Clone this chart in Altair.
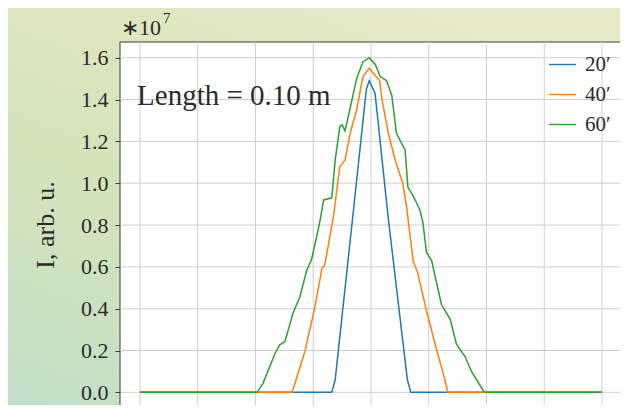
import altair as alt
import pandas as pd

# ---- data (intensity in units of 1e7) ----
x20 = [0, 3.32, 3.38, 3.70, 3.92, 3.97, 4.07, 4.30, 4.63, 4.69, 8]
y20 = [0, 0, 0.06, 0.88, 1.45, 1.49, 1.43, 0.83, 0.06, 0, 0]

x40 = [0, 2.63, 2.68, 2.86, 3.03, 3.15, 3.20, 3.35, 3.46, 3.55,
       3.64, 3.75, 3.86, 3.97, 4.06, 4.15, 4.19, 4.30, 4.42, 4.55,
       4.62, 4.73, 4.81, 4.96, 5.14, 5.28, 5.33, 8]
y40 = [0, 0, 0.04, 0.20, 0.41, 0.59, 0.61, 0.84, 1.08, 1.11,
       1.24, 1.35, 1.51, 1.55, 1.52, 1.49, 1.40, 1.24, 1.11, 1.00,
       0.88, 0.63, 0.57, 0.39, 0.20, 0.06, 0, 0]

x60 = [0, 2.03, 2.13, 2.34, 2.42, 2.51, 2.65, 2.77, 2.89, 2.97,
       3.06, 3.12, 3.18, 3.32, 3.38, 3.46, 3.50, 3.55, 3.64, 3.75,
       3.86, 3.97, 4.07, 4.16, 4.27, 4.36, 4.44, 4.53, 4.59, 4.64,
       4.73, 4.85, 4.90, 4.96, 5.05, 5.22, 5.37, 5.48, 5.63, 5.74,
       5.94, 5.97, 8]
y60 = [0, 0, 0.043, 0.187, 0.227, 0.243, 0.378, 0.458, 0.586, 0.634,
       0.745, 0.825, 0.92, 0.93, 1.11, 1.27, 1.28, 1.25, 1.36, 1.50,
       1.58, 1.60, 1.57, 1.51, 1.49, 1.42, 1.24, 1.19, 1.16, 0.98,
       0.94, 0.87, 0.81, 0.67, 0.63, 0.42, 0.35, 0.23, 0.17, 0.10,
       0.01, 0, 0]

series_names = ["20′", "40′", "60′"]
series_colors = ["#1f77b4", "#ff7f0e", "#2ca02c"]

x_grid = [0, 1, 2, 3, 4, 5, 6, 7, 8]
y_ticks = [0.0, 0.2, 0.4, 0.6, 0.8, 1.0, 1.2, 1.4, 1.6]

rows = []
for name, xs_, ys_ in zip(series_names, [x20, x40, x60], [y20, y40, y60]):
    for i, (a, b) in enumerate(zip(xs_, ys_)):
        rows.append({"x": a, "y": b, "s": name, "i": i})
lines_df = pd.DataFrame(rows)

W, H = 501, 365
FONT = "Liberation Serif"
TXT = "#2b2b2b"

xs = alt.Scale(domain=[-0.346, 8.329], nice=False, zero=False)
ys = alt.Scale(domain=[-0.070, 1.675], nice=False, zero=False)

x_axis = alt.Axis(labels=False, ticks=True, domain=False, grid=False,
                  title=None, values=x_grid, tickColor="#3a3a3a",
                  tickSize=5, zindex=1)
y_axis = alt.Axis(values=y_ticks, format=".1f", grid=False, domain=False,
                  tickColor="#3a3a3a", tickSize=5, labelPadding=7,
                  labelFont=FONT, labelFontSize=22, labelColor=TXT,
                  title="I, arb. u.", titleFont=FONT, titleFontSize=26,
                  titleFontWeight="normal", titleColor=TXT,
                  titlePadding=22, zindex=1)

bg = alt.Chart(pd.DataFrame({"a": [0]})).mark_rect(
    color=alt.Gradient(
        gradient="linear",
        stops=[
            alt.GradientStop(color="#e8e9c7", offset=0),
            alt.GradientStop(color="#d3e4b9", offset=0.55),
            alt.GradientStop(color="#c2dfc6", offset=1),
        ],
        x1=0.7, y1=0, x2=0.1, y2=1,
    )
).encode(
    x=alt.value(-120), x2=alt.value(W + 10),
    y=alt.value(-45), y2=alt.value(H + 10),
)

panel = alt.Chart(pd.DataFrame({"a": [0]})).mark_rect(
    fill="white", stroke="#3a3a3a", strokeWidth=1
).encode(
    x=alt.value(0), x2=alt.value(W), y=alt.value(0), y2=alt.value(H)
)

vgrid = alt.Chart(pd.DataFrame({"x": x_grid})).mark_rule(
    color="#cfcfcf", strokeWidth=1
).encode(x=alt.X("x:Q", scale=xs, axis=x_axis))

hgrid = alt.Chart(pd.DataFrame({"y": y_ticks})).mark_rule(
    color="#cfcfcf", strokeWidth=1
).encode(y=alt.Y("y:Q", scale=ys, axis=y_axis))

lines = alt.Chart(lines_df).mark_line(strokeWidth=1.5).encode(
    x=alt.X("x:Q", scale=xs, axis=x_axis),
    y=alt.Y("y:Q", scale=ys, axis=y_axis),
    color=alt.Color("s:N",
                    scale=alt.Scale(domain=series_names, range=series_colors),
                    legend=alt.Legend(title=None, orient="none",
                                      legendX=428, legendY=8,
                                      symbolType="stroke", symbolSize=729,
                                      symbolStrokeWidth=1.4, labelFont=FONT,
                                      labelFontSize=21, labelColor=TXT,
                                      labelOffset=8, rowPadding=5,
                                      zindex=1)),
    order="i:Q",
)

label_df = pd.DataFrame({"x": [-0.05], "y": [1.376], "t": ["Length = 0.10 m"]})
label = alt.Chart(label_df).mark_text(
    align="left", baseline="alphabetic", font=FONT, fontSize=29, color=TXT
).encode(x=alt.X("x:Q", scale=xs, axis=x_axis),
         y=alt.Y("y:Q", scale=ys, axis=y_axis), text="t:N")

mult = alt.Chart(pd.DataFrame({"t": ["∗10"]})).mark_text(
    align="left", baseline="alphabetic", font=FONT, fontSize=22, color=TXT
).encode(x=alt.value(1), y=alt.value(-7), text="t:N")

sup = alt.Chart(pd.DataFrame({"t": ["7"]})).mark_text(
    align="left", baseline="alphabetic", font=FONT, fontSize=15, color=TXT
).encode(x=alt.value(43), y=alt.value(-19), text="t:N")

chart = alt.layer(bg, panel, vgrid, hgrid, lines, label, mult, sup).properties(
    width=W, height=H,
    autosize=alt.AutoSizeParams(type="none"),
    padding={"left": 112, "top": 34, "right": -1, "bottom": -2},
).configure_view(stroke=None)

chart.save("out.html", embed_options={"renderer": "svg", "actions": False})
